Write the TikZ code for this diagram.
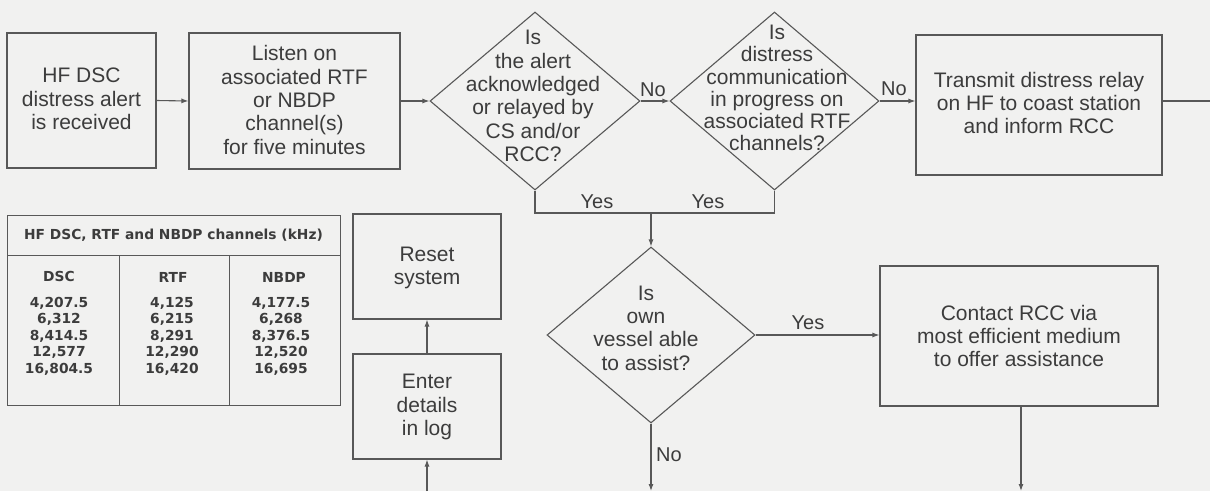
\documentclass[tikz,border=0pt]{standalone}
\usepackage{fontspec}
\setmainfont{Liberation Sans}
\newfontfamily\tabfont{DejaVu Sans}
\usetikzlibrary{shapes.geometric,arrows.meta}
\definecolor{bg}{HTML}{F1F1F0}
\definecolor{ln}{HTML}{585858}
\definecolor{tx}{HTML}{3C3C3C}
\begin{document}
\begin{tikzpicture}[x=1pt,y=-1pt,
  every node/.style={text=tx},
  boxn/.style={draw=ln,line width=1.1pt,fill=bg,rectangle,inner sep=0pt},
  dia/.style={draw=ln,line width=1.1pt,fill=bg,diamond,inner sep=0pt},
  txt/.style={align=center,font=\fontsize{21}{23.3}\selectfont,inner sep=0pt},
  lbl/.style={font=\fontsize{20}{22}\selectfont,inner sep=0pt},
  conn/.style={draw=ln,line width=1.1pt},
  arr/.style={conn,-{Latex[length=7pt,width=5pt]}},
  tb/.style={font=\tabfont\bfseries\fontsize{13.8}{16.5}\selectfont,inner sep=0pt,align=center},
  tline/.style={draw=ln,line width=1pt}
]
\fill[bg] (0,0) rectangle (1210,491);
\useasboundingbox (0,0) rectangle (1210,491);

% boxes
\node[boxn,minimum width=149pt,minimum height=135pt] (b1) at (81.5,100.5) {};
\node[txt] (b1t) at (81.5,99) {HF DSC\\distress alert\\is received};
\node[boxn,minimum width=211pt,minimum height=136pt] (b2) at (294.5,101) {};
\node[txt] (b2t) at (294.5,100) {Listen on\\associated RTF\\or NBDP\\channel(s)\\for five minutes};
\node[boxn,minimum width=246pt,minimum height=140pt] (b3) at (1039,105) {};
\node[txt] (b3t) at (1039,103) {Transmit distress relay\\on HF to coast station\\and inform RCC};
\node[boxn,minimum width=278pt,minimum height=140pt] (b4) at (1019,336) {};
\node[txt] (b4t) at (1019,336) {Contact RCC via\\most efficient medium\\to offer assistance};
\node[boxn,minimum width=148pt,minimum height=105pt] (rs) at (427,266.5) {};
\node[txt] (rst) at (427,268) {Reset\\system};
\node[boxn,minimum width=148pt,minimum height=105pt] (en) at (427,406.5) {};
\node[txt] (ent) at (427,407) {Enter\\details\\in log};

% diamonds
\node[dia,minimum width=210pt,minimum height=178pt] (d1) at (535,101) {};
\node[txt] (d1t) at (533,96) {Is\\the alert\\acknowledged\\or relayed by\\CS and/or\\RCC?};
\node[dia,minimum width=209pt,minimum height=178pt] (d2) at (774.5,101) {};
\node[txt,font=\fontsize{21}{22.2}\selectfont] (d2t) at (777,88) {Is\\distress\\communication\\in progress on\\associated RTF\\channels?};
\node[dia,minimum width=208pt,minimum height=176pt] (d3) at (651,335) {};
\node[txt] (d3t) at (646,328) {Is\\own\\vessel able\\to assist?};

% connectors
\draw[arr] (b1.east) -- (b2.west);
\draw[arr] (b2.east) -- (d1.west);
\draw[arr] (d1.east) -- (d2.west);
\node[lbl] (no1) at (653,90) {No};
\draw[arr] (d2.east) -- (d2.east-|b3.west);
\node[lbl] (no2) at (894,89) {No};
\coordinate (out1) at (1210,101);
\draw[conn] (b3.east|-out1) -- (out1);

\coordinate (jn) at (651,213);
\draw[conn] (d1.south) |- (jn) -| (d2.south);
\node[lbl] (y1) at (597,202) {Yes};
\node[lbl] (y2) at (708,202) {Yes};
\draw[arr] (jn) -- (d3.north);

\draw[arr] (d3.east) -- (d3.east-|b4.west);
\node[lbl] (y3) at (808,323) {Yes};

\coordinate (o2) at (1021,491);
\draw[arr] (b4.south-|o2) -- (o2);
\coordinate (o3) at (651,491);
\draw[arr] (d3.south) -- (o3);
\node[lbl] (no3) at (669,455) {No};

\coordinate (i1) at (427,491);
\draw[arr] (i1) -- (en.south);
\draw[arr] (en.north) -- (rs.south);

% table
\draw[tline,fill=bg] (7,215) rectangle (340,405);
\draw[tline] (7,255) -- (340,255);
\draw[tline] (119,255) -- (119,405);
\draw[tline] (229,255) -- (229,405);
\node[tb] (th) at (173.5,235) {HF DSC, RTF and NBDP channels (kHz)};
\node[tb] (c1) at (59,276) {DSC};
\node[tb] (c2) at (173,277) {RTF};
\node[tb] (c3) at (284,277) {NBDP};
\node[tb,anchor=north] (v1) at (59,297) {4,207.5\\6,312\\8,414.5\\12,577\\16,804.5};
\node[tb,anchor=north] (v2) at (172,297) {4,125\\6,215\\8,291\\12,290\\16,420};
\node[tb,anchor=north] (v3) at (281,297) {4,177.5\\6,268\\8,376.5\\12,520\\16,695};
\end{tikzpicture}
\end{document}
